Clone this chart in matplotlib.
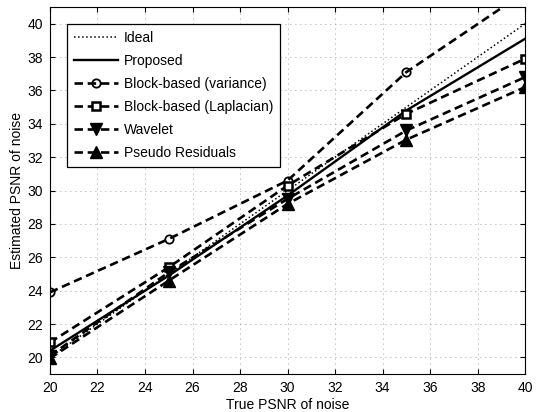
import matplotlib
matplotlib.use("Agg")
import matplotlib.pyplot as plt

plt.rcParams['font.family'] = ['Liberation Sans', 'DejaVu Sans']

true_psnr = [20, 25, 30, 35, 40]
ideal = [20, 25, 30, 35, 40]
proposed = [20.4, 24.9, 29.7, 34.8, 39.1]
block_var = [23.9, 27.1, 30.6, 37.1, 41.9]
block_lap = [20.9, 25.4, 30.3, 34.6, 37.9]
wavelet = [20.1, 25.1, 29.5, 33.6, 36.8]
pseudo = [19.95, 24.6, 29.2, 33.05, 36.2]

fig = plt.figure(figsize=(5.37, 4.12), dpi=100)
ax = fig.add_axes([0.093, 0.092, 0.885, 0.891])

dash = (3.2, 1.8)
ax.plot(true_psnr, ideal, ':', color='black', lw=1.1, label='Ideal')
ax.plot(true_psnr, proposed, '-', color='black', lw=1.7, label='Proposed')
ax.plot(true_psnr, block_var, '--', dashes=dash, color='black', lw=1.9, marker='o', ms=6,
        mfc='none', mew=1.3, label='Block-based (variance)')
ax.plot(true_psnr, block_lap, '--', dashes=dash, color='black', lw=1.9, marker='s', ms=5.5,
        mfc='white', mew=1.8, label='Block-based (Laplacian)')
ax.plot(true_psnr, wavelet, '--', dashes=dash, color='black', lw=1.9, marker='v', ms=9,
        label='Wavelet')
ax.plot(true_psnr, pseudo, '--', dashes=dash, color='black', lw=1.9, marker='^', ms=9,
        label='Pseudo Residuals')

ax.set_xlim(20, 40)
ax.set_ylim(19, 41)
ax.set_xticks(range(20, 41, 2))
ax.set_yticks(range(20, 41, 2))
ax.tick_params(direction='in', top=True, right=True, labelsize=10, pad=5)
ax.grid(True, linestyle=(0, (1, 5)), color='gray', lw=0.6)
ax.set_xlabel('True PSNR of noise', fontsize=10, labelpad=2)
ax.set_ylabel('Estimated PSNR of noise', fontsize=10, labelpad=2)

leg = ax.legend(loc='upper left', fontsize=10, fancybox=False, edgecolor='black',
                framealpha=1, handlelength=3.2, borderaxespad=1.2,
                labelspacing=0.65, borderpad=0.5, handletextpad=0.4)
leg.get_frame().set_linewidth(0.9)

fig.savefig('out.png', dpi=100)
